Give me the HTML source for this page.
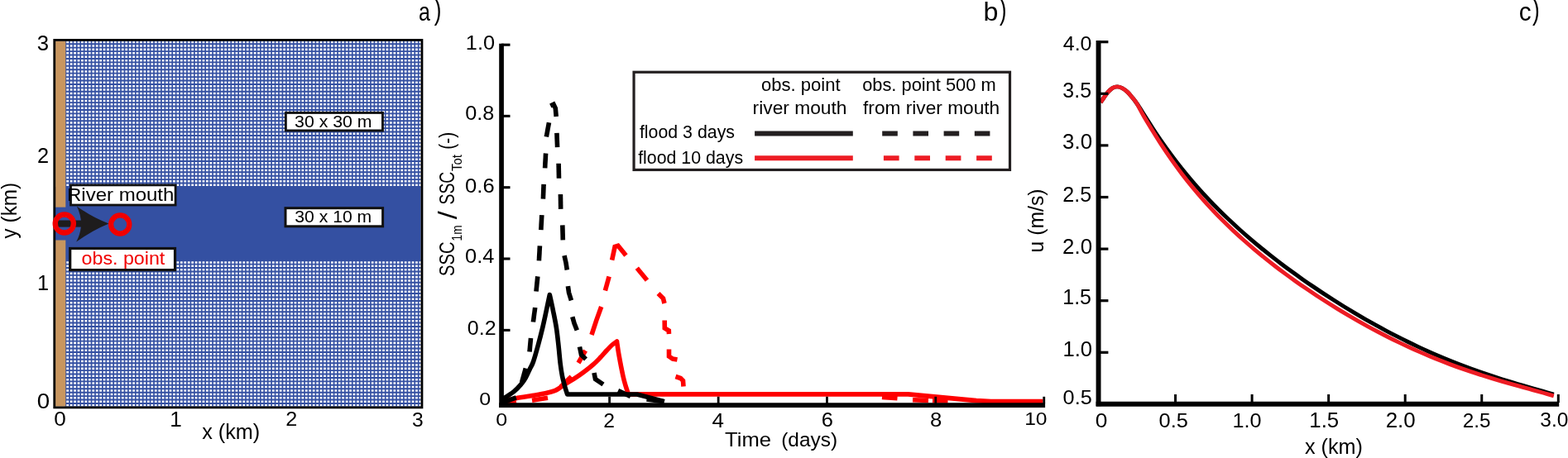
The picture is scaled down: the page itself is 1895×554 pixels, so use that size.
<!DOCTYPE html>
<html><head><meta charset="utf-8"><title>Figure</title>
<style>html,body{margin:0;padding:0;background:#fff;width:1895px;height:554px;overflow:hidden}svg{display:block}</style>
</head><body>
<svg width="1895" height="554" viewBox="0 0 1895 554" font-family="'Liberation Sans', sans-serif">
<rect width="1895" height="554" fill="#fff"/>
<g id="pa"><rect x="67.1" y="49.8" width="441.5" height="441.8" fill="#fff"/><path d="M79.45,49.8V491.6M83.89,49.8V491.6M88.33,49.8V491.6M92.77,49.8V491.6M97.21,49.8V491.6M101.65,49.8V491.6M106.09,49.8V491.6M110.53,49.8V491.6M114.97,49.8V491.6M119.41,49.8V491.6M123.85,49.8V491.6M128.29,49.8V491.6M132.73,49.8V491.6M137.17,49.8V491.6M141.61,49.8V491.6M146.05,49.8V491.6M150.49,49.8V491.6M154.93,49.8V491.6M159.37,49.8V491.6M163.81,49.8V491.6M168.25,49.8V491.6M172.69,49.8V491.6M177.13,49.8V491.6M181.57,49.8V491.6M186.01,49.8V491.6M190.45,49.8V491.6M194.89,49.8V491.6M199.33,49.8V491.6M203.77,49.8V491.6M208.21,49.8V491.6M212.65,49.8V491.6M217.09,49.8V491.6M221.53,49.8V491.6M225.97,49.8V491.6M230.41,49.8V491.6M234.85,49.8V491.6M239.29,49.8V491.6M243.73,49.8V491.6M248.17,49.8V491.6M252.61,49.8V491.6M257.05,49.8V491.6M261.49,49.8V491.6M265.93,49.8V491.6M270.37,49.8V491.6M274.81,49.8V491.6M279.25,49.8V491.6M283.69,49.8V491.6M288.13,49.8V491.6M292.57,49.8V491.6M297.01,49.8V491.6M301.45,49.8V491.6M305.89,49.8V491.6M310.33,49.8V491.6M314.77,49.8V491.6M319.21,49.8V491.6M323.65,49.8V491.6M328.09,49.8V491.6M332.53,49.8V491.6M336.97,49.8V491.6M341.41,49.8V491.6M345.85,49.8V491.6M350.29,49.8V491.6M354.73,49.8V491.6M359.17,49.8V491.6M363.61,49.8V491.6M368.05,49.8V491.6M372.49,49.8V491.6M376.93,49.8V491.6M381.37,49.8V491.6M385.81,49.8V491.6M390.25,49.8V491.6M394.69,49.8V491.6M399.13,49.8V491.6M403.57,49.8V491.6M408.01,49.8V491.6M412.45,49.8V491.6M416.89,49.8V491.6M421.33,49.8V491.6M425.77,49.8V491.6M430.21,49.8V491.6M434.65,49.8V491.6M439.09,49.8V491.6M443.53,49.8V491.6M447.97,49.8V491.6M452.41,49.8V491.6M456.85,49.8V491.6M461.29,49.8V491.6M465.73,49.8V491.6M470.17,49.8V491.6M474.61,49.8V491.6M479.05,49.8V491.6M483.49,49.8V491.6M487.93,49.8V491.6M492.37,49.8V491.6M496.81,49.8V491.6M501.25,49.8V491.6M505.69,49.8V491.6M510.13,49.8V491.6" stroke="#3450a2" stroke-width="1.7" fill="none"/><path d="M79.3,48.80H508.6M79.3,53.23H508.6M79.3,57.66H508.6M79.3,62.09H508.6M79.3,66.52H508.6M79.3,70.95H508.6M79.3,75.38H508.6M79.3,79.81H508.6M79.3,84.24H508.6M79.3,88.67H508.6M79.3,93.10H508.6M79.3,97.53H508.6M79.3,101.96H508.6M79.3,106.39H508.6M79.3,110.82H508.6M79.3,115.25H508.6M79.3,119.68H508.6M79.3,124.11H508.6M79.3,128.54H508.6M79.3,132.97H508.6M79.3,137.40H508.6M79.3,141.83H508.6M79.3,146.26H508.6M79.3,150.69H508.6M79.3,155.12H508.6M79.3,159.55H508.6M79.3,163.98H508.6M79.3,168.41H508.6M79.3,172.84H508.6M79.3,177.27H508.6M79.3,181.70H508.6M79.3,186.13H508.6M79.3,190.56H508.6M79.3,194.99H508.6M79.3,199.42H508.6M79.3,203.85H508.6M79.3,208.28H508.6M79.3,212.71H508.6M79.3,217.14H508.6M79.3,221.57H508.6M79.3,226.00H508.6M79.3,315.20H508.6M79.3,319.63H508.6M79.3,324.06H508.6M79.3,328.49H508.6M79.3,332.92H508.6M79.3,337.35H508.6M79.3,341.78H508.6M79.3,346.21H508.6M79.3,350.64H508.6M79.3,355.07H508.6M79.3,359.50H508.6M79.3,363.93H508.6M79.3,368.36H508.6M79.3,372.79H508.6M79.3,377.22H508.6M79.3,381.65H508.6M79.3,386.08H508.6M79.3,390.51H508.6M79.3,394.94H508.6M79.3,399.37H508.6M79.3,403.80H508.6M79.3,408.23H508.6M79.3,412.66H508.6M79.3,417.09H508.6M79.3,421.52H508.6M79.3,425.95H508.6M79.3,430.38H508.6M79.3,434.81H508.6M79.3,439.24H508.6M79.3,443.67H508.6M79.3,448.10H508.6M79.3,452.53H508.6M79.3,456.96H508.6M79.3,461.39H508.6M79.3,465.82H508.6M79.3,470.25H508.6M79.3,474.68H508.6M79.3,479.11H508.6M79.3,483.54H508.6M79.3,487.97H508.6M79.3,492.40H508.6" stroke="#3450a2" stroke-width="1.9" fill="none"/><rect x="78.4" y="49.8" width="1.2" height="441.8" fill="#3450a2"/><rect x="67.1" y="225.9" width="441.5" height="89.4" fill="#3450a2"/><rect x="67.1" y="49.8" width="12.200000000000003" height="201.0" fill="#c8965f"/><rect x="67.1" y="290.3" width="12.200000000000003" height="201.3" fill="#c8965f"/><rect x="67.1" y="250.8" width="12.200000000000003" height="39.5" fill="#3450a2"/><rect x="65.75" y="48.45" width="444.2" height="444.45" fill="none" stroke="#000" stroke-width="2.8"/><rect x="85.50" y="223.90" width="126.60" height="24.10" fill="#fff" stroke="#111" stroke-width="2.8"/><rect x="84.70" y="300.50" width="126.80" height="26.10" fill="#fff" stroke="#111" stroke-width="3.2"/><rect x="345.35" y="136.45" width="117.10" height="21.50" fill="#fff" stroke="#111" stroke-width="2.9"/><rect x="345.00" y="251.70" width="117.60" height="22.10" fill="#fff" stroke="#111" stroke-width="3.0"/><path d="M70,266.5 H98 V274.6 H70 Z" fill="#1e1c1d"/><path d="M92.8,249.4 Q111.5,263 131.5,270.4 Q111.5,278.5 92.2,292.6 Q96.8,284 97.9,274.6 L97.9,266.5 Q96.8,257.5 92.8,249.4 Z" fill="#1e1c1d"/><circle cx="77.8" cy="270.5" r="11.05" fill="none" stroke="#f00000" stroke-width="6.4"/><circle cx="145.2" cy="271.5" r="11.1" fill="none" stroke="#f00000" stroke-width="6.3"/></g>
<g id="ta"><text x="44.80" y="61.25" font-size="25.0" fill="#000" textLength="14.30" lengthAdjust="spacingAndGlyphs">3</text><text x="44.92" y="196.90" font-size="25.5" fill="#000" textLength="14.10" lengthAdjust="spacingAndGlyphs">2</text><text x="45.08" y="351.28" font-size="26.02" fill="#000" textLength="14.02" lengthAdjust="spacingAndGlyphs">1</text><text x="44.78" y="494.45" font-size="24.86" fill="#000" textLength="15.34" lengthAdjust="spacingAndGlyphs">0</text><text x="65.24" y="515.27" font-size="23.59" fill="#000" textLength="14.52" lengthAdjust="spacingAndGlyphs">0</text><text x="205.32" y="516.40" font-size="24.85" fill="#000" textLength="14.50" lengthAdjust="spacingAndGlyphs">1</text><text x="345.34" y="515.40" font-size="24.5" fill="#000" textLength="14.04" lengthAdjust="spacingAndGlyphs">2</text><text x="497.90" y="515.96" font-size="24.15" fill="#000" textLength="13.70" lengthAdjust="spacingAndGlyphs">3</text><text x="244.26" y="531.10" font-size="25.0" fill="#000" textLength="69.94" lengthAdjust="spacingAndGlyphs">x (km)</text><text x="506.08" y="24.90" font-size="31.5" fill="#000" textLength="13.90" lengthAdjust="spacingAndGlyphs">a</text><text x="524.68" y="23.55" font-size="34.55" fill="#000" textLength="8.74" lengthAdjust="spacingAndGlyphs">)</text><text x="81.06" y="243.30" font-size="21.5" fill="#000" textLength="129.33" lengthAdjust="spacingAndGlyphs">River mouth</text><text x="98.60" y="319.60" font-size="22.5" fill="#f00000" textLength="100.71" lengthAdjust="spacingAndGlyphs">obs. point</text><text x="356.08" y="154.09" font-size="21.05" fill="#000" textLength="93.36" lengthAdjust="spacingAndGlyphs">30 x 30 m</text><text x="356.34" y="269.39" font-size="20.62" fill="#000" textLength="92.92" lengthAdjust="spacingAndGlyphs">30 x 10 m</text></g>
<g id="pb"><rect x="766.05" y="87.25" width="454.45" height="118.2" fill="#fff" stroke="#231f20" stroke-width="3.2"/><path d="M912.1,161.5 H1030.8" stroke="#231f20" stroke-width="5.9"/><path d="M912.1,191.2 H1030.8" stroke="#ed1c24" stroke-width="6"/><path d="M1066.2,161.5 H1197" stroke="#231f20" stroke-width="5.9" stroke-dasharray="18.6 18.6"/><path d="M1067.9,191.2 H1199" stroke="#ed1c24" stroke-width="6" stroke-dasharray="18.7 18.7"/><path d="M607.00,485.30 C609.75,484.72 616.85,483.02 623.50,481.80 C630.15,480.58 640.82,479.05 646.90,478.00 C652.98,476.95 656.08,476.40 660.00,475.50 C663.92,474.60 667.73,473.60 670.40,472.60 C673.07,471.60 675.07,470.02 676.00,469.50 L676.00,469.50 C677.02,468.78 679.13,467.08 682.10,465.20 C685.07,463.32 689.88,460.73 693.80,458.20 C697.72,455.67 701.68,452.93 705.60,450.00 C709.52,447.07 713.98,443.52 717.30,440.60 C720.62,437.68 722.78,435.35 725.50,432.50 C728.22,429.65 731.18,426.08 733.60,423.50 C736.02,420.92 738.02,418.75 740.00,417.00 C741.98,415.25 744.58,413.67 745.50,413.00 L745.50,413.20 C745.95,416.10 746.95,423.63 748.20,430.60 C749.45,437.57 751.62,448.77 753.00,455.00 C754.38,461.23 755.42,464.35 756.50,468.00 C757.58,471.65 759.00,475.42 759.50,476.90 L1097.5,476.9 L1180,484.6 L1197.5,485.6 L1260.4,485.6" fill="none" stroke="#ff0000" stroke-width="5.6" stroke-linejoin="round"/><path d="M606.50,487.00 L624.00,485.60" fill="none" stroke="#ff0000" stroke-width="5.6" stroke-linejoin="miter"/><path d="M643.00,484.30 L662.00,481.20" fill="none" stroke="#ff0000" stroke-width="5.6" stroke-linejoin="miter"/><path d="M677.50,468.00 L690.50,455.50" fill="none" stroke="#ff0000" stroke-width="5.6" stroke-linejoin="miter"/><path d="M699.00,439.00 L707.50,424.00" fill="none" stroke="#ff0000" stroke-width="5.6" stroke-linejoin="miter"/><path d="M715.00,405.00 L720.80,387.40 L726.70,371.00" fill="none" stroke="#ff0000" stroke-width="5.6" stroke-linejoin="miter"/><path d="M731.40,351.50 L736.10,334.60" fill="none" stroke="#ff0000" stroke-width="5.6" stroke-linejoin="miter"/><path d="M739.60,314.60 L743.10,298.50 L747.00,297.20 L756.50,309.00" fill="none" stroke="#ff0000" stroke-width="5.6" stroke-linejoin="miter"/><path d="M769.80,324.30 L782.00,339.00" fill="none" stroke="#ff0000" stroke-width="5.6" stroke-linejoin="miter"/><path d="M795.50,355.00 L801.50,361.00 L803.00,367.00" fill="none" stroke="#ff0000" stroke-width="5.6" stroke-linejoin="miter"/><path d="M803.20,387.50 L803.30,397.00 L808.30,400.00 L808.50,404.00" fill="none" stroke="#ff0000" stroke-width="5.6" stroke-linejoin="miter"/><path d="M808.50,422.50 L808.50,431.00 L813.00,434.00 L818.50,435.00" fill="none" stroke="#ff0000" stroke-width="5.6" stroke-linejoin="miter"/><path d="M816.50,455.50 L822.50,457.50 L825.50,460.50 L826.00,467.50" fill="none" stroke="#ff0000" stroke-width="5.6" stroke-linejoin="miter"/><path d="M1066.00,480.50 L1084.50,481.80" fill="none" stroke="#ff0000" stroke-width="5.6" stroke-linejoin="miter"/><path d="M1103.00,483.80 L1122.00,484.40" fill="none" stroke="#ff0000" stroke-width="5.6" stroke-linejoin="miter"/><path d="M1127.00,484.60 L1145.50,485.00" fill="none" stroke="#ff0000" stroke-width="5.6" stroke-linejoin="miter"/><path d="M606.50,485.30 C607.18,484.55 608.17,482.75 610.60,480.80 C613.03,478.85 617.98,476.17 621.10,473.60 C624.22,471.03 626.95,468.17 629.30,465.40 C631.65,462.63 633.33,460.23 635.20,457.00 C637.07,453.77 638.95,449.25 640.50,446.00 C642.05,442.75 642.88,442.17 644.50,437.50 C646.12,432.83 648.33,424.83 650.20,418.00 C652.07,411.17 654.07,403.33 655.70,396.50 C657.33,389.67 658.57,383.67 660.00,377.00 C661.43,370.33 663.58,359.92 664.30,356.50 L664.30,356.50 C665.00,359.75 667.15,369.33 668.50,376.00 C669.85,382.67 671.32,389.50 672.40,396.50 C673.48,403.50 674.20,410.75 675.00,418.00 C675.80,425.25 676.45,433.83 677.20,440.00 C677.95,446.17 678.62,450.50 679.50,455.00 C680.38,459.50 681.48,463.33 682.50,467.00 C683.52,470.67 685.08,475.33 685.60,477.00 L769.9,477 L802.9,485.6" fill="none" stroke="#000" stroke-width="5.6" stroke-linejoin="round"/><path d="M606.50,487.30 L623.80,480.80" fill="none" stroke="#000" stroke-width="5.6" stroke-linejoin="miter"/><path d="M630.60,462.50 L635.30,445.50" fill="none" stroke="#000" stroke-width="5.6" stroke-linejoin="miter"/><path d="M640.00,425.50 L641.50,409.00" fill="none" stroke="#000" stroke-width="5.6" stroke-linejoin="miter"/><path d="M644.40,389.50 L646.70,372.00" fill="none" stroke="#000" stroke-width="5.6" stroke-linejoin="miter"/><path d="M648.00,352.50 L649.80,334.40" fill="none" stroke="#000" stroke-width="5.6" stroke-linejoin="miter"/><path d="M651.40,315.30 L652.40,297.40" fill="none" stroke="#000" stroke-width="5.6" stroke-linejoin="miter"/><path d="M653.80,278.20 L654.80,260.10" fill="none" stroke="#000" stroke-width="5.6" stroke-linejoin="miter"/><path d="M656.40,240.70 L657.10,222.90" fill="none" stroke="#000" stroke-width="5.6" stroke-linejoin="miter"/><path d="M658.60,203.40 L659.60,185.50" fill="none" stroke="#000" stroke-width="5.6" stroke-linejoin="miter"/><path d="M660.30,165.60 L663.50,148.30" fill="none" stroke="#000" stroke-width="5.6" stroke-linejoin="miter"/><path d="M665.30,128.00 L669.00,126.30 L671.30,131.00 L672.20,141.00" fill="none" stroke="#000" stroke-width="5.6" stroke-linejoin="miter"/><path d="M672.90,160.80 L673.60,178.20" fill="none" stroke="#000" stroke-width="5.6" stroke-linejoin="miter"/><path d="M675.10,197.80 L675.50,215.80" fill="none" stroke="#000" stroke-width="5.6" stroke-linejoin="miter"/><path d="M677.40,235.00 L677.70,252.90" fill="none" stroke="#000" stroke-width="5.6" stroke-linejoin="miter"/><path d="M679.80,272.40 L680.30,290.40" fill="none" stroke="#000" stroke-width="5.6" stroke-linejoin="miter"/><path d="M682.00,309.20 L684.00,318.00 L685.30,326.50" fill="none" stroke="#000" stroke-width="5.6" stroke-linejoin="miter"/><path d="M686.40,346.20 L687.50,354.00 L690.40,363.30" fill="none" stroke="#000" stroke-width="5.6" stroke-linejoin="miter"/><path d="M691.80,383.20 L694.00,391.00 L697.30,399.40" fill="none" stroke="#000" stroke-width="5.6" stroke-linejoin="miter"/><path d="M700.50,419.50 L702.50,429.00 L708.00,434.50" fill="none" stroke="#000" stroke-width="5.6" stroke-linejoin="miter"/><path d="M718.00,451.00 L719.50,458.50 L729.00,465.00" fill="none" stroke="#000" stroke-width="5.6" stroke-linejoin="miter"/><path d="M747.00,472.50 L762.00,479.50" fill="none" stroke="#000" stroke-width="5.6" stroke-linejoin="miter"/><path d="M781.50,483.00 L802.50,485.80" fill="none" stroke="#000" stroke-width="5.6" stroke-linejoin="miter"/><path d="M606.05,52.7 V492.9" stroke="#000" stroke-width="5.7"/><path d="M603.2,490.1 H1263.1" stroke="#000" stroke-width="5.9"/><path d="M606,54.20 H616.5" stroke="#000" stroke-width="3.1"/><path d="M606,140.40 H616.5" stroke="#000" stroke-width="3.1"/><path d="M606,226.70 H616.5" stroke="#000" stroke-width="3.1"/><path d="M606,313.00 H616.5" stroke="#000" stroke-width="3.1"/><path d="M606,399.40 H616.5" stroke="#000" stroke-width="3.1"/><path d="M736.60,479.8 V488" stroke="#000" stroke-width="2.8"/><path d="M868.15,479.8 V488" stroke="#000" stroke-width="2.8"/><path d="M999.45,479.8 V488" stroke="#000" stroke-width="2.8"/><path d="M1130.75,479.8 V488" stroke="#000" stroke-width="2.8"/><path d="M1261.75,479.8 V488" stroke="#000" stroke-width="2.8"/></g>
<g id="tb"><text x="562.80" y="60.06" font-size="24.44" fill="#000" textLength="35.22" lengthAdjust="spacingAndGlyphs">1.0</text><text x="562.24" y="145.37" font-size="23.45" fill="#000" textLength="35.06" lengthAdjust="spacingAndGlyphs">0.8</text><text x="562.14" y="232.75" font-size="24.72" fill="#000" textLength="35.56" lengthAdjust="spacingAndGlyphs">0.6</text><text x="562.14" y="318.26" font-size="24.58" fill="#000" textLength="35.30" lengthAdjust="spacingAndGlyphs">0.4</text><text x="564.84" y="405.06" font-size="24.58" fill="#000" textLength="34.72" lengthAdjust="spacingAndGlyphs">0.2</text><text x="579.32" y="490.45" font-size="22.88" fill="#000" textLength="13.90" lengthAdjust="spacingAndGlyphs">0</text><text x="599.24" y="515.06" font-size="22.32" fill="#000" textLength="13.90" lengthAdjust="spacingAndGlyphs">0</text><text x="729.20" y="516.60" font-size="23.21" fill="#000" textLength="13.78" lengthAdjust="spacingAndGlyphs">2</text><text x="860.44" y="516.60" font-size="23.55" fill="#000" textLength="14.44" lengthAdjust="spacingAndGlyphs">4</text><text x="992.74" y="515.76" font-size="24.15" fill="#000" textLength="14.18" lengthAdjust="spacingAndGlyphs">6</text><text x="1124.10" y="515.76" font-size="24.15" fill="#000" textLength="14.30" lengthAdjust="spacingAndGlyphs">8</text><text x="1238.16" y="514.47" font-size="22.88" fill="#000" textLength="27.37" lengthAdjust="spacingAndGlyphs">10</text><text x="876.04" y="540.00" font-size="24.5" fill="#000" textLength="55.90" lengthAdjust="spacingAndGlyphs">Time</text><text x="944.18" y="540.00" font-size="24.5" fill="#000" textLength="67.89" lengthAdjust="spacingAndGlyphs">(days)</text><text x="1188.44" y="24.90" font-size="31.5" fill="#000" textLength="17.93" lengthAdjust="spacingAndGlyphs">b</text><text x="1208.06" y="23.55" font-size="34.55" fill="#000" textLength="8.48" lengthAdjust="spacingAndGlyphs">)</text><text x="919.94" y="109.80" font-size="21.5" fill="#000" textLength="95.61" lengthAdjust="spacingAndGlyphs">obs. point</text><text x="909.64" y="138.40" font-size="21.5" fill="#000" textLength="113.87" lengthAdjust="spacingAndGlyphs">river mouth</text><text x="1042.16" y="109.80" font-size="21.5" fill="#000" textLength="161.47" lengthAdjust="spacingAndGlyphs">obs. point 500 m</text><text x="1043.04" y="138.40" font-size="21.5" fill="#000" textLength="165.19" lengthAdjust="spacingAndGlyphs">from river mouth</text><text x="772.94" y="166.70" font-size="21.5" fill="#000" textLength="115.03" lengthAdjust="spacingAndGlyphs">flood 3 days</text><text x="771.14" y="197.50" font-size="21.5" fill="#000" textLength="126.95" lengthAdjust="spacingAndGlyphs">flood 10 days</text></g>
<g id="pc"><path d="M1330.20,123.80 C1330.92,122.75 1333.07,119.52 1334.50,117.50 C1335.93,115.48 1337.17,113.52 1338.80,111.70 C1340.43,109.88 1342.40,107.73 1344.30,106.60 C1346.20,105.47 1348.22,104.90 1350.20,104.90 C1352.18,104.90 1354.12,105.52 1356.20,106.60 C1358.28,107.68 1360.65,109.50 1362.70,111.40 C1364.75,113.30 1366.65,115.73 1368.50,118.00 C1370.35,120.27 1371.22,121.22 1373.80,125.00 C1376.38,128.78 1380.19,134.79 1384.00,140.71 C1387.81,146.63 1392.44,154.18 1396.66,160.54 C1400.88,166.90 1405.10,172.99 1409.32,178.89 C1413.54,184.78 1417.76,190.44 1421.98,195.91 C1426.21,201.39 1430.43,206.66 1434.65,211.76 C1438.87,216.87 1443.09,221.79 1447.31,226.57 C1451.53,231.35 1455.75,235.96 1459.97,240.45 C1464.19,244.94 1468.41,249.27 1472.63,253.50 C1476.85,257.73 1481.07,261.83 1485.29,265.83 C1489.51,269.84 1493.73,273.72 1497.95,277.52 C1502.17,281.32 1506.39,285.02 1510.62,288.64 C1514.84,292.27 1519.06,295.79 1523.28,299.26 C1527.50,302.72 1531.72,306.10 1535.94,309.42 C1540.16,312.74 1544.38,315.99 1548.60,319.18 C1552.82,322.38 1557.04,325.50 1561.26,328.58 C1565.48,331.65 1569.70,334.67 1573.92,337.64 C1578.14,340.61 1582.36,343.52 1586.58,346.39 C1590.81,349.26 1595.03,352.08 1599.25,354.85 C1603.47,357.62 1607.69,360.35 1611.91,363.04 C1616.13,365.72 1620.35,368.36 1624.57,370.96 C1628.79,373.55 1633.01,376.10 1637.23,378.62 C1641.45,381.13 1645.67,383.59 1649.89,386.02 C1654.11,388.44 1658.33,390.83 1662.55,393.17 C1666.77,395.50 1670.99,397.80 1675.22,400.05 C1679.44,402.31 1683.66,404.52 1687.88,406.68 C1692.10,408.85 1696.32,410.97 1700.54,413.05 C1704.76,415.12 1708.98,417.16 1713.20,419.14 C1717.42,421.13 1721.64,423.08 1725.86,424.97 C1730.08,426.87 1734.30,428.72 1738.52,430.53 C1742.74,432.34 1746.96,434.10 1751.18,435.82 C1755.41,437.54 1759.63,439.22 1763.85,440.85 C1768.07,442.48 1772.29,444.07 1776.51,445.62 C1780.73,447.17 1784.95,448.68 1789.17,450.15 C1793.39,451.62 1797.61,453.05 1801.83,454.44 C1806.05,455.84 1810.27,457.20 1814.49,458.53 C1818.71,459.87 1822.93,461.17 1827.15,462.44 C1831.37,463.72 1835.59,464.97 1839.82,466.21 C1844.04,467.45 1848.26,468.66 1852.48,469.87 C1856.70,471.08 1860.92,472.28 1865.14,473.48 C1869.36,474.69 1875.69,476.49 1877.80,477.10" fill="none" stroke="#000" stroke-width="4.9"/><path d="M1330.20,123.80 C1330.92,122.75 1333.07,119.52 1334.50,117.50 C1335.93,115.48 1337.17,113.52 1338.80,111.70 C1340.43,109.88 1342.40,107.73 1344.30,106.60 C1346.20,105.47 1348.22,104.90 1350.20,104.90 C1352.18,104.90 1354.12,105.52 1356.20,106.60 C1358.28,107.68 1360.65,109.50 1362.70,111.40 C1364.75,113.30 1366.65,115.73 1368.50,118.00 C1370.35,120.27 1371.55,121.33 1373.80,125.00 C1376.05,128.67 1379.13,135.01 1382.00,140.00 C1384.87,144.99 1387.42,149.11 1391.00,154.94 C1394.58,160.76 1399.32,168.55 1403.48,174.95 C1407.64,181.36 1411.80,187.48 1415.96,193.39 C1420.12,199.29 1424.29,204.94 1428.45,210.41 C1432.61,215.87 1436.77,221.10 1440.93,226.17 C1445.09,231.24 1449.25,236.11 1453.41,240.83 C1457.57,245.56 1461.73,250.10 1465.89,254.52 C1470.05,258.93 1474.21,263.19 1478.37,267.34 C1482.54,271.48 1486.70,275.49 1490.86,279.40 C1495.02,283.31 1499.18,287.09 1503.34,290.79 C1507.50,294.49 1511.66,298.08 1515.82,301.60 C1519.98,305.11 1524.14,308.53 1528.30,311.88 C1532.46,315.23 1536.62,318.50 1540.78,321.70 C1544.95,324.91 1549.11,328.03 1553.27,331.11 C1557.43,334.18 1561.59,337.18 1565.75,340.14 C1569.91,343.09 1574.07,345.98 1578.23,348.82 C1582.39,351.67 1586.55,354.45 1590.71,357.19 C1594.87,359.93 1599.03,362.62 1603.19,365.27 C1607.36,367.91 1611.52,370.51 1615.68,373.06 C1619.84,375.61 1624.00,378.11 1628.16,380.57 C1632.32,383.03 1636.48,385.44 1640.64,387.82 C1644.80,390.19 1648.96,392.51 1653.12,394.79 C1657.28,397.07 1661.44,399.31 1665.61,401.50 C1669.77,403.70 1673.93,405.84 1678.09,407.94 C1682.25,410.05 1686.41,412.10 1690.57,414.11 C1694.73,416.13 1698.89,418.09 1703.05,420.01 C1707.21,421.93 1711.37,423.80 1715.53,425.63 C1719.69,427.46 1723.85,429.24 1728.02,430.97 C1732.18,432.71 1736.34,434.40 1740.50,436.04 C1744.66,437.68 1748.82,439.28 1752.98,440.84 C1757.14,442.40 1761.30,443.91 1765.46,445.38 C1769.62,446.85 1773.78,448.28 1777.94,449.67 C1782.10,451.06 1786.26,452.41 1790.43,453.73 C1794.59,455.05 1798.75,456.34 1802.91,457.59 C1807.07,458.85 1811.23,460.08 1815.39,461.28 C1819.55,462.49 1823.71,463.67 1827.87,464.84 C1832.03,466.01 1836.19,467.16 1840.35,468.32 C1844.51,469.47 1848.68,470.61 1852.84,471.77 C1857.00,472.92 1861.16,474.07 1865.32,475.26 C1869.48,476.44 1875.72,478.26 1877.80,478.86" fill="none" stroke="#ed1c24" stroke-width="4.9"/><path d="M1327.55,48.9 V491.2" stroke="#000" stroke-width="5.9"/><path d="M1324.6,488.8 H1884.2" stroke="#000" stroke-width="5.9"/><path d="M1328,50.70 H1339.4" stroke="#000" stroke-width="3.2"/><path d="M1328,113.30 H1339.4" stroke="#000" stroke-width="3.2"/><path d="M1328,175.90 H1339.4" stroke="#000" stroke-width="3.2"/><path d="M1328,238.50 H1339.4" stroke="#000" stroke-width="3.2"/><path d="M1328,301.10 H1339.4" stroke="#000" stroke-width="3.2"/><path d="M1328,363.70 H1339.4" stroke="#000" stroke-width="3.2"/><path d="M1328,426.30 H1339.4" stroke="#000" stroke-width="3.2"/><path d="M1420.55,477 V487" stroke="#000" stroke-width="3.0"/><path d="M1513.10,477 V487" stroke="#000" stroke-width="3.0"/><path d="M1605.65,477 V487" stroke="#000" stroke-width="3.0"/><path d="M1698.20,477 V487" stroke="#000" stroke-width="3.0"/><path d="M1790.75,477 V487" stroke="#000" stroke-width="3.0"/><path d="M1883.30,477 V487" stroke="#000" stroke-width="3.0"/></g>
<g id="tc"><text x="1284.82" y="61.35" font-size="24.29" fill="#000" textLength="34.68" lengthAdjust="spacingAndGlyphs">4.0</text><text x="1284.36" y="117.64" font-size="25.56" fill="#000" textLength="34.66" lengthAdjust="spacingAndGlyphs">3.5</text><text x="1284.12" y="180.44" font-size="25.56" fill="#000" textLength="35.92" lengthAdjust="spacingAndGlyphs">3.0</text><text x="1284.28" y="243.54" font-size="25.42" fill="#000" textLength="34.82" lengthAdjust="spacingAndGlyphs">2.5</text><text x="1284.12" y="306.55" font-size="25.0" fill="#000" textLength="35.92" lengthAdjust="spacingAndGlyphs">2.0</text><text x="1284.26" y="368.35" font-size="25.36" fill="#000" textLength="34.76" lengthAdjust="spacingAndGlyphs">1.5</text><text x="1284.44" y="430.95" font-size="25.28" fill="#000" textLength="35.60" lengthAdjust="spacingAndGlyphs">1.0</text><text x="1284.58" y="488.56" font-size="24.58" fill="#000" textLength="35.12" lengthAdjust="spacingAndGlyphs">0.5</text><text x="1323.86" y="516.61" font-size="23.45" fill="#000" textLength="14.62" lengthAdjust="spacingAndGlyphs">0</text><text x="1400.56" y="516.66" font-size="24.15" fill="#000" textLength="35.26" lengthAdjust="spacingAndGlyphs">0.5</text><text x="1489.60" y="516.65" font-size="24.72" fill="#000" textLength="35.02" lengthAdjust="spacingAndGlyphs">1.0</text><text x="1582.28" y="516.54" font-size="26.36" fill="#000" textLength="35.92" lengthAdjust="spacingAndGlyphs">1.5</text><text x="1674.72" y="516.54" font-size="25.99" fill="#000" textLength="36.00" lengthAdjust="spacingAndGlyphs">2.0</text><text x="1767.80" y="516.56" font-size="24.01" fill="#000" textLength="33.72" lengthAdjust="spacingAndGlyphs">2.5</text><text x="1861.30" y="515.60" font-size="24.5" fill="#000">3.0</text><text x="1576.96" y="549.10" font-size="25.0" fill="#000" textLength="69.96" lengthAdjust="spacingAndGlyphs">x (km)</text><text x="1835.80" y="24.90" font-size="31.5" fill="#000" textLength="14.84" lengthAdjust="spacingAndGlyphs">c</text><text x="1852.02" y="23.55" font-size="34.55" fill="#000" textLength="8.74" lengthAdjust="spacingAndGlyphs">)</text></g>
<g id="rl"><text transform="translate(20.3,288.40) rotate(-90)" font-size="25" textLength="67.60" lengthAdjust="spacingAndGlyphs">y (km)</text><text transform="translate(1261.4,305.40) rotate(-90)" font-size="25" textLength="77.00" lengthAdjust="spacingAndGlyphs">u (m/s)</text><text transform="translate(548.90,333.90) rotate(-90)" font-size="25" textLength="41.60" lengthAdjust="spacingAndGlyphs">SSC</text><text transform="translate(557.90,291.40) rotate(-90)" font-size="16" textLength="18.90" lengthAdjust="spacingAndGlyphs">1m</text><text transform="translate(552.20,265.30) rotate(-90)" font-size="31" textLength="9.99" lengthAdjust="spacingAndGlyphs">/</text><text transform="translate(548.90,247.50) rotate(-90)" font-size="25" textLength="39.70" lengthAdjust="spacingAndGlyphs">SSC</text><text transform="translate(557.90,206.90) rotate(-90)" font-size="16" textLength="19.90" lengthAdjust="spacingAndGlyphs">Tot</text><text transform="translate(548.90,180.70) rotate(-90)" font-size="25" textLength="20.80" lengthAdjust="spacingAndGlyphs">(-)</text></g>
</svg>
</body></html>
